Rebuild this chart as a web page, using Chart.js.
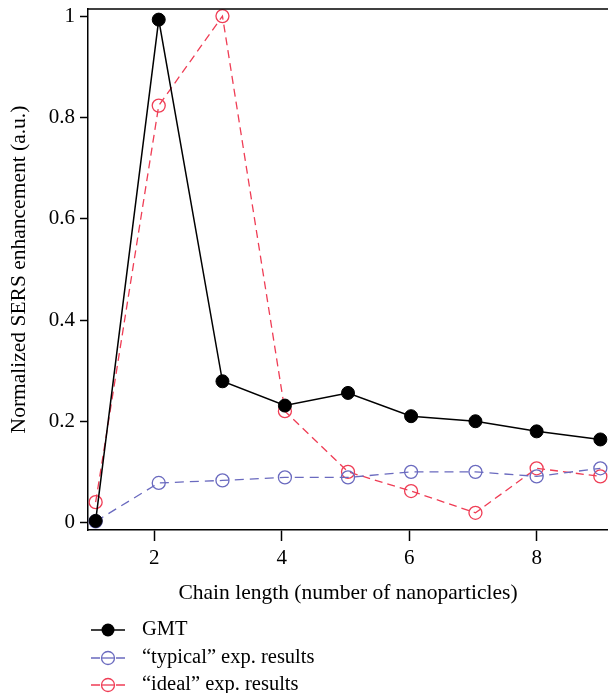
<!DOCTYPE html>
<html>
<head>
<meta charset="utf-8">
<script src="https://cdn.jsdelivr.net/npm/chart.js@4.4.0/dist/chart.umd.min.js"></script>
<style>
  html, body { margin: 0; padding: 0; background: #fff; }
  #wrap { width: 608px; height: 693px; }
</style>
</head>
<body>
<div id="wrap"><canvas id="c" width="608" height="693"></canvas></div>
<script>
// Chain length positions
const chainLength = [1.08, 2.07, 3.07, 4.05, 5.04, 6.03, 7.04, 8.0, 9.0];
const gmtValues     = [0.003, 0.994, 0.279, 0.231, 0.256, 0.210, 0.200, 0.180, 0.164];
const typicalValues = [0.002, 0.078, 0.083, 0.089, 0.089, 0.100, 0.100, 0.091, 0.107];
const idealValues   = [0.040, 0.824, 1.001, 0.220, 0.100, 0.062, 0.019, 0.107, 0.091];
const xTickValues = [2, 4, 6, 8];
const yTickValues = [0, 0.2, 0.4, 0.6, 0.8, 1];
const yTickLabels = ['0', '0.2', '0.4', '0.6', '0.8', '1'];
const seriesLabels = ['GMT', '\u201Ctypical\u201D exp. results', '\u201Cideal\u201D exp. results'];
const xTitle = 'Chain length (number of nanoparticles)';
const yTitle = 'Normalized SERS enhancement (a.u.)';

const FONT = "'Liberation Serif', 'DejaVu Serif', serif";
const BLUE = '#6a6abf';
const RED = '#ef3d55';

function pts(vals) { return vals.map((v, i) => ({ x: chainLength[i], y: v })); }

const boxPlugin = {
  id: 'box',
  afterDraw(chart) {
    const { ctx, chartArea } = chart;
    ctx.save();
    ctx.strokeStyle = '#000';
    ctx.lineWidth = 1.5;
    ctx.beginPath();
    ctx.moveTo(chartArea.left, chartArea.top);
    ctx.lineTo(chart.width, chartArea.top);
    ctx.stroke();
    ctx.restore();
  }
};

const legendPlugin = {
  id: 'customLegend',
  afterDraw(chart) {
    const { ctx } = chart;
    const rowsY = [630, 658, 685];
    ctx.save();
    chart.data.datasets.forEach((ds, i) => {
      const y = rowsY[i];
      ctx.strokeStyle = ds.borderColor;
      ctx.lineWidth = ds.borderWidth;
      ctx.setLineDash([]);
      ctx.beginPath();
      if (ds.borderDash && ds.borderDash.length) {
        ctx.moveTo(91, y); ctx.lineTo(100, y);
        ctx.moveTo(116, y); ctx.lineTo(125, y);
      } else {
        ctx.moveTo(91, y); ctx.lineTo(125, y);
      }
      ctx.stroke();
      ctx.beginPath();
      ctx.arc(108, y, ds.pointRadius, 0, Math.PI * 2);
      if (ds.pointBackgroundColor !== 'transparent') {
        ctx.fillStyle = ds.pointBackgroundColor;
        ctx.fill();
      } else {
        ctx.lineWidth = ds.pointBorderWidth;
        ctx.stroke();
        ctx.beginPath();
        ctx.moveTo(102, y); ctx.lineTo(114, y);
        ctx.stroke();
      }
      ctx.fillStyle = '#000';
      ctx.font = "20.5px " + FONT;
      ctx.textBaseline = 'middle';
      ctx.textAlign = 'left';
      ctx.fillText(ds.label, 142, y);
    });
    ctx.restore();
  }
};

function zeroPad(s) { s.paddingLeft = 0; s.paddingRight = 0; s.paddingTop = 0; s.paddingBottom = 0; }

new Chart(document.getElementById('c'), {
  type: 'line',
  data: {
    datasets: [
      {
        label: seriesLabels[0], data: pts(gmtValues),
        borderColor: '#000', borderWidth: 1.5,
        pointRadius: 6.5, pointBackgroundColor: '#000', pointBorderColor: '#000', pointBorderWidth: 1,
        tension: 0
      },
      {
        label: seriesLabels[1], data: pts(typicalValues),
        borderColor: BLUE, borderWidth: 1.3, borderDash: [9, 6],
        pointRadius: 6.5, pointBackgroundColor: 'transparent', pointBorderColor: BLUE, pointBorderWidth: 1.3,
        tension: 0
      },
      {
        label: seriesLabels[2], data: pts(idealValues),
        borderColor: RED, borderWidth: 1.3, borderDash: [8, 5],
        pointRadius: 6.5, pointBackgroundColor: 'transparent', pointBorderColor: RED, pointBorderWidth: 1.3,
        tension: 0
      }
    ]
  },
  options: {
    responsive: false,
    animation: false,
    clip: false,
    layout: { autoPadding: false, padding: { top: 9, right: 0, bottom: 85, left: 0 } },
    plugins: { legend: { display: false }, tooltip: { enabled: false } },
    scales: {
      x: {
        type: 'linear', min: 0.96, max: 9.12,
        afterFit(s) { s.height = 78; zeroPad(s); },
        afterBuildTicks(s) { s.ticks = xTickValues.map(v => ({ value: v })); },
        grid: { drawOnChartArea: false, tickLength: 11, tickWidth: 1.5, tickColor: '#000' },
        border: { display: true, color: '#000', width: 1.5 },
        ticks: { color: '#000', font: { family: FONT, size: 21 }, padding: 5, maxRotation: 0 },
        title: { display: true, text: xTitle, color: '#000', font: { family: FONT, size: 21.5 }, padding: { top: 0, bottom: 2 } }
      },
      y: {
        type: 'linear', min: -0.015, max: 1.015,
        afterFit(s) { s.width = 88; zeroPad(s); },
        afterBuildTicks(s) { s.ticks = yTickValues.map(v => ({ value: v })); },
        grid: { drawOnChartArea: false, tickLength: 8, tickWidth: 1.5, tickColor: '#000' },
        border: { display: true, color: '#000', width: 1.5 },
        ticks: {
          color: '#000', font: { family: FONT, size: 21 }, padding: 5,
          callback(v) { const i = yTickValues.indexOf(v); return i >= 0 ? yTickLabels[i] : ''; }
        },
        title: { display: true, text: yTitle, color: '#000', font: { family: FONT, size: 21.5 }, padding: { top: 6, bottom: 0 } }
      }
    }
  },
  plugins: [boxPlugin, legendPlugin]
});
</script>
</body>
</html>
